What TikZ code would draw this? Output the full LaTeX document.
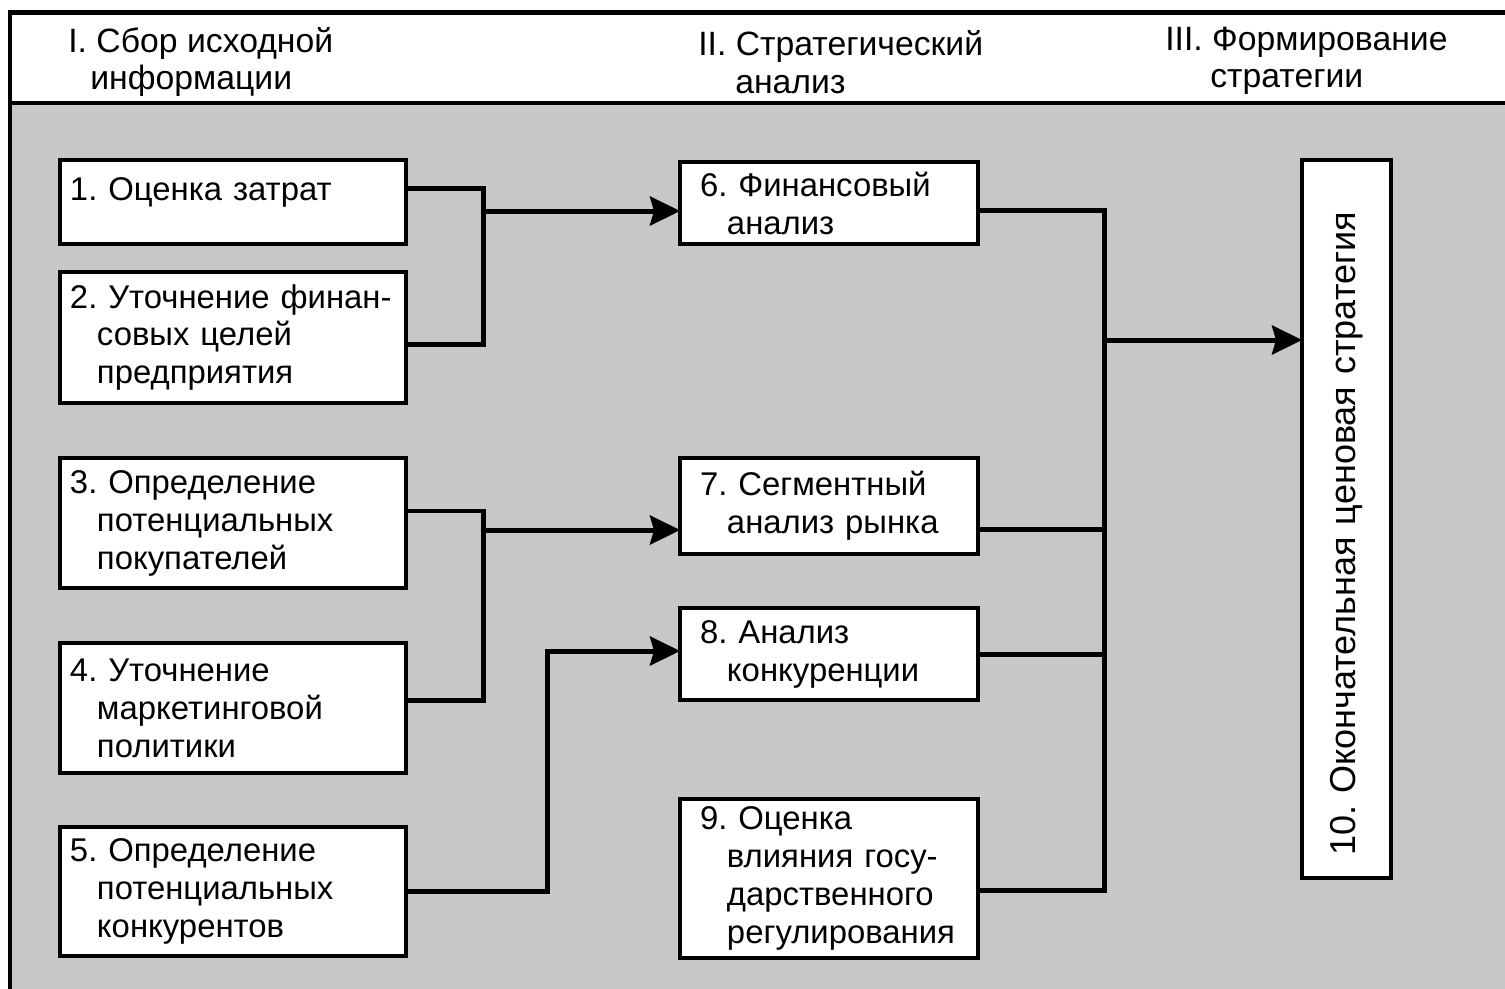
\documentclass[tikz,border=0pt]{standalone}
\usepackage{fontspec}
\setmainfont{Liberation Sans}
\usetikzlibrary{arrows.meta}
\definecolor{panelgray}{gray}{0.78}
\newcommand{\indl}[1]{\hspace*{#1}}
\frenchspacing

\begin{document}
\begin{tikzpicture}[x=0.02cm,y=-0.02cm,
  font=\fontsize{18.7}{21.6}\selectfont,
  head/.style={anchor=west,align=left,inner sep=0pt,font=\fontsize{19.2}{21.3}\selectfont},
  box/.style={draw,line width=0.08cm,fill=white,anchor=north west,outer sep=0pt,
    align=left,inner ysep=0.1cm},
  lbox/.style={box,inner xsep=0.2cm,text width=6.52cm},
  mbox/.style={box,inner xsep=0.4cm,text width=5.16cm},
  link/.style={line width=0.1cm},
  >={Stealth[length=0.6cm,width=0.58cm,inset=0.08cm]}]
\useasboundingbox (0,0) rectangle (1505,988);
\clip (0,0) rectangle (1505,988);

% frame and panel
\fill[panelgray] (12,104) rectangle (1520,1000);
\draw[line width=0.08cm] (12,103) -- (1520,103);
\draw[line width=0.1cm] (10,1000) -- (10,12) -- (1520,12);

% stage headings
\node[head] (h1) at (68,62) {I. Сбор исходной\\\indl{0.44cm}информации};
\node[head] (h2) at (698,62) {II. Стратегический\\\indl{0.74cm}анализ};
\node[head] (h3) at (1165,61) {III. Формирование\\\indl{0.9cm}стратегии};

% I
\node[lbox,minimum height=1.68cm,text depth=0.5cm] (b1) at (60,160) {1. Оценка затрат};
\node[lbox,minimum height=2.62cm] (b2) at (60,272) {2. Уточнение финан-\\\indl{0.54cm}совых целей\\\indl{0.54cm}предприятия};
\node[lbox,minimum height=2.6cm] (b3) at (60,458) {3. Определение\\\indl{0.54cm}потенциальных\\\indl{0.54cm}покупателей};
\node[lbox,minimum height=2.6cm] (b4) at (60,643) {4. Уточнение\\\indl{0.54cm}маркетинговой\\\indl{0.54cm}политики};
\node[lbox,minimum height=2.58cm] (b5) at (60,827) {5. Определение\\\indl{0.54cm}потенциальных\\\indl{0.54cm}конкурентов};

% II
\node[mbox,minimum height=1.64cm] (b6) at (680,162) {6. Финансовый\\\indl{0.54cm}анализ};
\node[mbox,minimum height=1.92cm] (b7) at (680,458) {7. Сегментный\\\indl{0.54cm}анализ рынка};
\node[mbox,minimum height=1.84cm] (b8) at (680,608) {8. Анализ\\\indl{0.54cm}конкуренции};
\node[mbox,minimum height=3.18cm] (b9) at (680,799) {9. Оценка\\\indl{0.54cm}влияния госу-\\\indl{0.54cm}дарственного\\\indl{0.54cm}регулирования};

% III
\node[draw,line width=0.08cm,fill=white,rotate=90,align=left,outer sep=0pt,
  font=\fontsize{20.5}{24}\selectfont,
  text width=13.46cm,inner xsep=0.45cm,minimum height=1.78cm] (b10)
  at (1346.5,519) {10. Окончательная ценовая стратегия};

% joins
\coordinate (ja) at (483,211);
\coordinate (jb) at (483,530);
\coordinate (jc) at (547,651);
\coordinate (jd) at (1104,340);

\draw[link] ([yshift=0.28cm]b1.east) -| (ja) |- ([yshift=-0.15cm]b2.east);
\draw[link,->] (ja) -- (b6.west |- ja);
\draw[link] ([yshift=0.24cm]b3.east) -| (jb) |- ([yshift=0.16cm]b4.east);
\draw[link,->] (jb) -- (b7.west |- jb);
\draw[link,->] (b5.east) -| (jc) -- (b8.west |- jc);

\draw[link] ([yshift=-0.16cm]b6.east) -| (jd) |- ([yshift=-0.25cm]b9.east);
\draw[link] ([yshift=-0.48cm]b7.east) -| (jd);
\draw[link] (b8.east) -| (jd);
\draw[link,->] (jd) -- (b10.north |- jd);
\end{tikzpicture}
\end{document}
